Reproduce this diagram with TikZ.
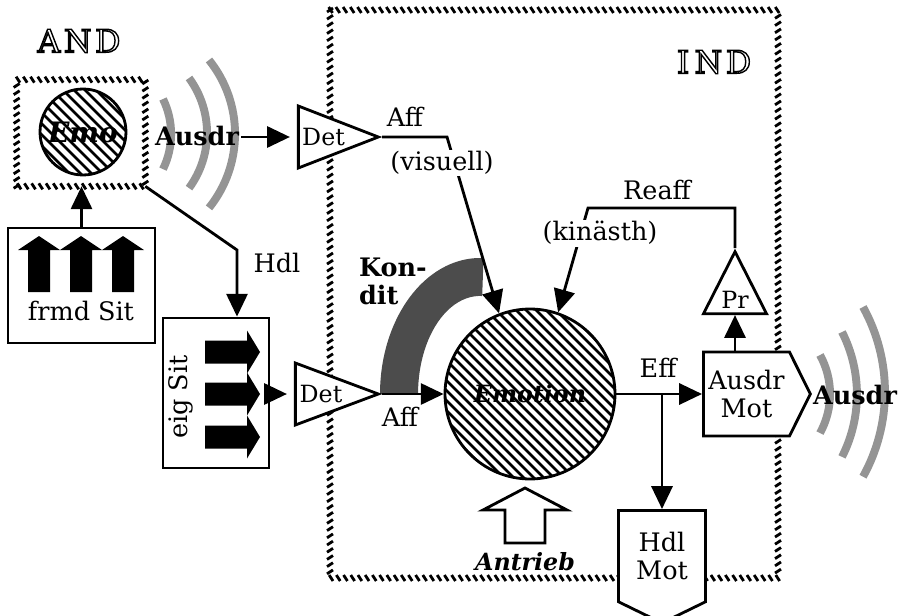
\documentclass[tikz,border=0pt]{standalone}
\usepackage{fontspec}
\setmainfont{DejaVu Serif}
\usetikzlibrary{positioning}
\usetikzlibrary{arrows.meta}
\usetikzlibrary{calc}
\usetikzlibrary{shapes.geometric}
\usetikzlibrary{shapes.symbols}
\usetikzlibrary{decorations.markings}

\newcommand{\hollowtext}[1]{\special{pdf:literal direct 1 Tr 0.8 w}#1\special{pdf:literal direct 0 Tr}}

\begin{document}
\begin{tikzpicture}[
        x=0.02cm, y=0.02cm,
        every node/.style={font=\fontsize{14.5}{16}\selectfont, inner sep=1pt},
        arrow/.style={-{Triangle[length=13pt,width=12pt]}, line width=1.6pt},
        box/.style={draw, line width=1.6pt, fill=white},
        rope/.style={postaction={decorate}, decoration={markings,
            mark=between positions 0 and 1 step 4.1pt with {\draw[line width=1.6pt] (-1.1pt,1.7pt) -- (1.1pt,-1.7pt);}}},
        wave/.style={line width=4.5pt, draw=black!42},
        hatchline/.style={line width=1.5pt},
        bold/.style={font=\fontsize{14.5}{16}\selectfont\bfseries},
        bolditalic/.style={font=\fontsize{13.5}{16}\selectfont\bfseries\itshape},
        outline/.style={font=\fontsize{18}{20}\selectfont},
        det/.style={isosceles triangle, isosceles triangle stretches, draw, line width=1.6pt, fill=white,
            inner sep=0pt, font=\fontsize{13.5}{15}\selectfont},
        pointer/.style={signal, draw, line width=1.6pt, fill=white, align=center, inner sep=0pt}
    ]

        \useasboundingbox (0,0) rectangle (905,-615);

        % -------------------------------------------------
        % IND Rahmen
        % -------------------------------------------------
        \path[rope] (330,-10) rectangle (778,-578);
        \node[outline] (indlabel) at (714,-62) {\hollowtext{I\hspace{3pt}N\hspace{2pt}D}};

        % -------------------------------------------------
        % AND: Emo, frmd Sit, eig Sit
        % -------------------------------------------------
        \node[outline] (andlabel) at (79,-41) {\hollowtext{A\hspace{2pt}N\hspace{2pt}D}};
        \node[minimum width=2.56cm, minimum height=2.12cm] (andbox) at (81,-133) {};
        \path[rope] (andbox.south west) rectangle (andbox.north east);

        \begin{scope}
            \clip (83,-132) circle[radius=43];
            \foreach \i in {-99,-88,...,99} {
                \draw[hatchline] (83+\i-50,-132+50) -- (83+\i+50,-132-50);
            }
        \end{scope}
        \node[circle, draw, line width=1.6pt, minimum size=1.72cm, bolditalic,
            font=\fontsize{16}{18}\selectfont\bfseries\itshape] (emo) at (83,-132) {Emo};

        % Wellen links
        \draw[wave] (163,-99) arc[start angle=26, end angle=-26, radius=80];
        \draw[wave] (189,-78) arc[start angle=36.3, end angle=-36.3, radius=93];
        \draw[wave] (209,-60) arc[start angle=38.8, end angle=-38.8, radius=118];
        \node[bold] (ausdrand) at (197,-136) {Ausdr};

        \node[box, minimum width=2.94cm, minimum height=2.3cm] (frmdsit) at (81.5,-285.5) {};
        \foreach \x in {39,81,123} {
            \fill (\x-11,-292) -- (\x-11,-250) -- (\x-21,-250) -- (\x,-236) -- (\x+21,-250) -- (\x+11,-250) -- (\x+11,-292) -- cycle;
        }
        \node (frmdtext) at (81,-311) {frmd Sit};

        \node[box, minimum width=2.12cm, minimum height=3cm] (eigsit) at (216,-393) {};
        \foreach \y in {352,394,437} {
            \fill (205,-\y+11.5) -- (247,-\y+11.5) -- (247,-\y+21.5) -- (260,-\y) -- (247,-\y-21.5) -- (247,-\y-11.5) -- (205,-\y-11.5) -- cycle;
        }
        \node[rotate=90] (eigtext) at (181,-397) {eig Sit};

        \draw[arrow] (frmdsit.north) -- (frmdsit.north |- andbox.south);
        \coordinate (hdlkink) at (237,-250);
        \draw[arrow] (andbox.south east) -- (hdlkink) -- (hdlkink |- eigsit.north);
        \node (hdl) at (277,-263) {Hdl};

        % -------------------------------------------------
        % Detektoren und Emotion
        % -------------------------------------------------
        \fill[black!70] (380,-394) arc[start angle=180, end angle=88, x radius=100, y radius=136]
            -- (482.2,-296) arc[start angle=88, end angle=180, x radius=62, y radius=98] -- cycle;
        \node[bold, align=left, anchor=west] (kondit) at (357,-281) {Kon-\\dit};

        \begin{scope}
            \clip (530,-394) circle[radius=85];
            \foreach \i in {-180,-170,...,180} {
                \draw[hatchline] (530+\i-90,-394+90) -- (530+\i+90,-394-90);
            }
        \end{scope}
        \node[circle, draw, line width=1.6pt, minimum size=3.4cm, bolditalic] (emotion) at (530,-394) {Emotion};

        \node[det, minimum width=1.24cm, minimum height=1.6cm, anchor=apex] (detvis) at (382,-137) {Det};
        \node[det, minimum width=1.24cm, minimum height=1.66cm, anchor=apex] (detsit) at (382,-394) {Det};

        \draw[arrow, shorten >=4pt] (ausdrand.east |- detvis.lower side) -- (detvis.lower side);
        \draw[arrow, shorten >=4pt] (eigsit.east |- detsit.lower side) -- (detsit.lower side);

        \coordinate (viskink) at ($(detvis.apex)+(65,0)$);
        \draw[arrow] (detvis.apex) -- (viskink) -- (emotion.111);
        \node (affvis) at (405,-117) {Aff};
        \node[fill=white] (visuell) at (442,-163) {(visuell)};

        \draw[arrow] (detsit.apex) -- (emotion.west);
        \node (affsit) at (400,-417) {Aff};

        % Antrieb
        \draw[line width=1.6pt] (505,-543) -- (505,-510) -- (483,-510) -- (525,-488) -- (567,-510)
            -- (545,-510) -- (545,-543) -- cycle;
        \node[bolditalic] (antrieb) at (525,-562) {Antrieb};

        % -------------------------------------------------
        % Motorik und Reafferenz
        % -------------------------------------------------
        \node[pointer, signal to=east, signal pointer angle=127, minimum width=2.14cm, minimum height=1.68cm,
            anchor=west] (ausdrmot) at (702,-394) {Ausdr\\Mot};
        \node[pointer, signal to=south, signal pointer angle=128, minimum width=1.74cm, minimum height=2.08cm,
            anchor=north] (hdlmot) at (662,-509) {Hdl\\Mot};
        \node[isosceles triangle, isosceles triangle stretches, shape border rotate=90, draw, line width=1.6pt,
            fill=white, inner sep=0pt, minimum width=1.26cm, minimum height=1.24cm, font=\fontsize{13.5}{15}\selectfont,
            anchor=apex] (pr) at (735,-248) {Pr};

        \draw[arrow] (emotion.east) -- (emotion.east -| ausdrmot.west);
        \node (eff) at (658,-368) {Eff};
        \coordinate (effsplit) at (662,-394);
        \draw[arrow] (effsplit) -- (effsplit |- hdlmot.north);
        \draw[arrow] (pr.lower side |- ausdrmot.north) -- (pr.lower side);

        \coordinate (reaffkink) at (588,-208);
        \draw[arrow] (pr.apex) |- (reaffkink) -- (emotion.71);
        \node (reaff) at (657,-190) {Reaff};
        \node[fill=white] (kinaesth) at (600,-233) {(kinästh)};

        % Wellen rechts
        \draw[wave] (820,-355) arc[start angle=28.8, end angle=-28.8, radius=81];
        \draw[wave] (842,-332) arc[start angle=26.9, end angle=-26.9, radius=138];
        \draw[wave] (863,-307) arc[start angle=29, end angle=-29, radius=175];
        \node[bold] (ausdrind) at (855,-395) {Ausdr};

    \end{tikzpicture}
\end{document}
